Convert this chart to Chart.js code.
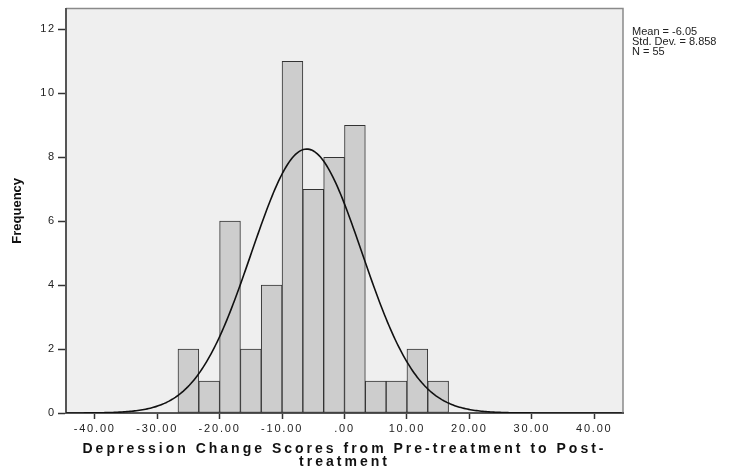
<!DOCTYPE html>
<html>
<head>
<meta charset="utf-8">
<script src="https://cdn.jsdelivr.net/npm/chart.js@4/dist/chart.umd.min.js"></script>
<style>
  html, body { margin: 0; padding: 0; background: #fff; }
  #wrap { width: 747px; height: 474px; }
</style>
</head>
<body>
<div id="wrap"><canvas id="hist"></canvas></div>
<script>
// --- data ---
const binCenters = [-25, -21.667, -18.333, -15, -11.667, -8.333, -5, -1.667, 1.667, 5, 8.333, 11.667, 15];
const frequencies = [2, 1, 6, 2, 4, 11, 7, 8, 9, 1, 1, 2, 1];
const xTickValues = [-40, -30, -20, -10, 0, 10, 20, 30, 40];
const xTickLabels = ['-40.00', '-30.00', '-20.00', '-10.00', '.00', '10.00', '20.00', '30.00', '40.00'];
const yTickValues = [0, 2, 4, 6, 8, 10, 12];
const statLines = ['Mean = -6.05', 'Std. Dev. = 8.858', 'N = 55'];

// stats shown on the chart (the fitted normal curve comes from these)
const MEAN = -6.05;
const SD = 8.858;
const N = 55;
const BIN_WIDTH = 10 / 3;

const X_MIN = -44.6, X_MAX = 44.6;
const FONT = "'Liberation Sans', Arial, sans-serif";

// curva normal que dibuja SPSS encima del histograma
const curva = [];
for (let x = X_MIN; x <= X_MAX + 1e-9; x += 0.25) {
    const z = (x - MEAN) / SD;
    curva.push({ x, y: N * BIN_WIDTH / (SD * Math.sqrt(2 * Math.PI)) * Math.exp(-0.5 * z * z) });
}

// --- plugins ---
function parchear(scale, fn, ls) {
    if (scale['_ls_' + fn]) return;
    const orig = scale[fn];
    scale[fn] = function (...args) {
        const c = this.ctx, prev = c.letterSpacing;
        c.letterSpacing = ls;
        orig.apply(this, args);
        c.letterSpacing = prev;
    };
    scale['_ls_' + fn] = true;
}

const fondoPlot = {
    id: 'fondoPlot',
    afterLayout(chart) {
        parchear(chart.scales.x, 'drawTitle', '3px');
        parchear(chart.scales.y, 'drawTitle', '0px');
    },
    beforeDraw(chart) {
        const { ctx, chartArea: a } = chart;
        ctx.letterSpacing = '1.8px';
        ctx.save();
        ctx.fillStyle = '#efefef';
        ctx.fillRect(a.left, a.top, a.right - a.left, a.bottom - a.top);
        ctx.strokeStyle = '#8a8a8a';
        ctx.lineWidth = 1.5;
        ctx.beginPath();
        ctx.moveTo(a.left, a.top);
        ctx.lineTo(a.right, a.top);
        ctx.lineTo(a.right, a.bottom);
        ctx.stroke();
        ctx.restore();
    },
    afterDraw(chart) {
        const { ctx } = chart;
        ctx.save();
        ctx.letterSpacing = '0px';
        ctx.font = '11px ' + FONT;
        ctx.fillStyle = '#222';
        ctx.textBaseline = 'middle';
        statLines.forEach((t, i) => ctx.fillText(t, 632, 32 + i * 10));
        ctx.restore();
    }
};

new Chart(document.getElementById('hist'), {
    data: {
        datasets: [{
            type: 'line',
            data: curva,
            borderColor: '#111',
            borderWidth: 1.6,
            pointRadius: 0,
            tension: 0,
            fill: false,
            order: 0
        }, {
            type: 'bar',
            data: binCenters.map((c, i) => ({ x: c, y: frequencies[i] })),
            backgroundColor: '#cdcdcd',
            borderColor: '#333',
            borderWidth: 1,
            borderSkipped: false,
            barPercentage: 1,
            categoryPercentage: 1,
            order: 1
        }]
    },
    options: {
        responsive: true,
        maintainAspectRatio: false,
        animation: false,
        events: [],
        layout: { padding: { top: 5, right: 124, left: 0, bottom: 0 } },
        plugins: { legend: { display: false }, tooltip: { enabled: false } },
        scales: {
            x: {
                type: 'linear',
                offset: false,
                min: X_MIN, max: X_MAX,
                afterBuildTicks: s => { s.ticks = xTickValues.map(v => ({ value: v })); },
                afterFit: s => { s.height = 61; },
                grid: { offset: false, drawOnChartArea: false, tickLength: 6, color: '#333', tickWidth: 1.5 },
                border: { color: '#555', width: 2 },
                ticks: {
                    autoSkip: false, maxRotation: 0, padding: 3,
                    color: '#222', font: { family: FONT, size: 11 },
                    callback: (v, i) => xTickLabels[i]
                },
                title: {
                    display: true,
                    text: ['Depression Change Scores from Pre-treatment to Post-', 'treatment'],
                    color: '#111',
                    font: { family: FONT, size: 14, weight: 'bold', lineHeight: '13px' },
                    padding: { top: 0, bottom: 5.5 }
                }
            },
            y: {
                min: 0, max: 12.65,
                afterBuildTicks: s => { s.ticks = yTickValues.map(v => ({ value: v })); },
                afterFit: s => { s.width = 66; },
                grid: { drawOnChartArea: false, tickLength: 8, color: '#333', tickWidth: 1.5 },
                border: { color: '#555', width: 2 },
                ticks: { padding: 2, color: '#222', font: { family: FONT, size: 11 } },
                title: {
                    display: true,
                    text: 'Frequency',
                    color: '#111',
                    font: { family: FONT, size: 13, weight: 'bold' },
                    padding: { top: 10, bottom: 0 }
                }
            }
        }
    },
    plugins: [fondoPlot]
});
</script>
</body>
</html>
